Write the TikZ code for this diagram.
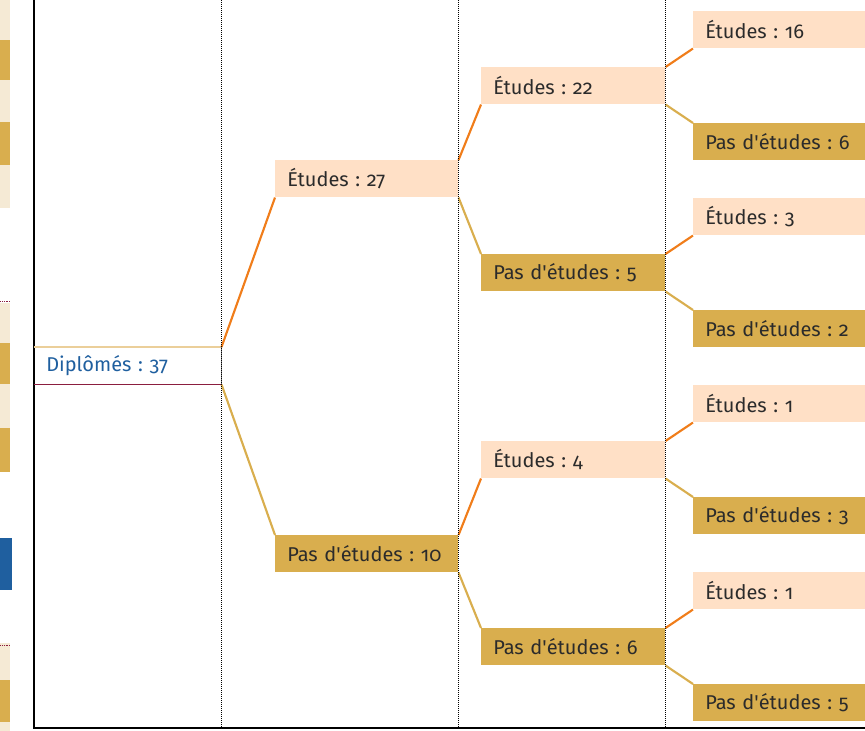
\documentclass[tikz,border=0pt]{standalone}
\usepackage{fontspec}
\setmainfont{Fira Sans}[Numbers=OldStyle]
\usepackage{tikz}
\frenchspacing

\definecolor{peach}{HTML}{FFE0C6}
\definecolor{ocre}{HTML}{D9AE4E}
\definecolor{cream}{HTML}{F5EAD5}
\definecolor{lineorange}{HTML}{F07D1A}
\definecolor{inkblue}{HTML}{1F5F9F}
\definecolor{wine}{HTML}{8B1E3F}
\definecolor{paleocre}{HTML}{EBCF9A}
\definecolor{darktext}{HTML}{2B2B2B}

\newcommand{\apos}{\textquotesingle}

\tikzset{
  box/.style={rectangle, anchor=north west, inner xsep=12*0.75pt, inner ysep=0pt,
    minimum height=37*0.75pt, align=left, text=darktext,
    font=\fontsize{15}{18}\selectfont},
  yesbox/.style={box, fill=peach},
  nobox/.style={box, fill=ocre},
  yesline/.style={lineorange, line width=1.6pt},
  noline/.style={ocre, line width=1.6pt},
  guide/.style={black, densely dotted, line width=0.5pt}
}

\begin{document}
\begin{tikzpicture}[x=0.75pt,y=-0.75pt]
  \useasboundingbox (0,0) rectangle (865,731);

  % bits of the neighbouring page
  \foreach \ya/\yb/\c in {0/40/cream, 40/80/ocre, 80/122/cream, 122/165/ocre, 165/208/cream,
      303/343/cream, 343/384/ocre, 384/428/cream, 428/472/ocre,
      643/680/cream, 680/722/ocre, 722/731/cream}
    \fill[\c] (0,\ya) rectangle (10,\yb);
  \fill[inkblue] (0,538) rectangle (12,590);
  \draw[wine, densely dotted] (0,301) -- (10,301);
  \draw[wine, densely dotted] (0,645) -- (10,645);

  % frame
  \draw[black, line width=0.8pt] (34,0) -- (34,728) -- (865,728);

  % root
  \node[box, text width=163*0.75pt, minimum width=187*0.75pt, text=inkblue] (root) at (34,347) {Diplômés : 37};
  \draw[paleocre, line width=0.8pt] (root.north west) -- (root.north east);
  \draw[wine, line width=0.8pt] (root.south west) -- (root.south east);
  \draw[gray, line width=0.8pt] (root.north east) -- (root.south east);

  % second level
  \node[yesbox, text width=159*0.75pt, minimum width=183*0.75pt] (e27) at (275,160) {Études : 27};
  \node[nobox, text width=159*0.75pt, minimum width=183*0.75pt] (p10) at (275,535) {Pas d\apos études : 10};

  % third level
  \node[yesbox, text width=160*0.75pt, minimum width=184*0.75pt] (e22) at (481,67) {Études : 22};
  \node[nobox, text width=160*0.75pt, minimum width=184*0.75pt] (p5) at (481,254) {Pas d\apos études : 5};
  \node[yesbox, text width=160*0.75pt, minimum width=184*0.75pt] (e4) at (481,441) {Études : 4};
  \node[nobox, text width=160*0.75pt, minimum width=184*0.75pt] (p6) at (481,628) {Pas d\apos études : 6};

  % fourth level
  \node[yesbox, text width=160*0.75pt, minimum width=184*0.75pt] (e16) at (693,11) {Études : 16};
  \node[nobox, text width=160*0.75pt, minimum width=184*0.75pt] (p6b) at (693,123) {Pas d\apos études : 6};
  \node[yesbox, text width=160*0.75pt, minimum width=184*0.75pt] (e3) at (693,198) {Études : 3};
  \node[nobox, text width=160*0.75pt, minimum width=184*0.75pt] (p2) at (693,310) {Pas d\apos études : 2};
  \node[yesbox, text width=160*0.75pt, minimum width=184*0.75pt] (e1) at (693,385) {Études : 1};
  \node[nobox, text width=160*0.75pt, minimum width=184*0.75pt] (p3) at (693,497) {Pas d\apos études : 3};
  \node[yesbox, text width=160*0.75pt, minimum width=184*0.75pt] (e1b) at (693,572) {Études : 1};
  \node[nobox, text width=160*0.75pt, minimum width=184*0.75pt] (p5b) at (693,684) {Pas d\apos études : 5};

  % branches
  \draw[yesline] (root.north east) -- (e27.south west);
  \draw[noline] (root.south east) -- (p10.north west);
  \draw[yesline] (e27.north east) -- (e22.south west);
  \draw[noline] (e27.south east) -- (p5.north west);
  \draw[yesline] (p10.north east) -- (e4.south west);
  \draw[noline] (p10.south east) -- (p6.north west);
  \draw[yesline] (e22.north east) -- (e16.south west);
  \draw[noline] (e22.south east) -- (p6b.north west);
  \draw[yesline] (p5.north east) -- (e3.south west);
  \draw[noline] (p5.south east) -- (p2.north west);
  \draw[yesline] (e4.north east) -- (e1.south west);
  \draw[noline] (e4.south east) -- (p3.north west);
  \draw[yesline] (p6.north east) -- (e1b.south west);
  \draw[noline] (p6.south east) -- (p5b.north west);

  % column guides
  \foreach \x in {221,458,665}
    \draw[guide] (\x,0) -- (\x,728);
\end{tikzpicture}
\end{document}
